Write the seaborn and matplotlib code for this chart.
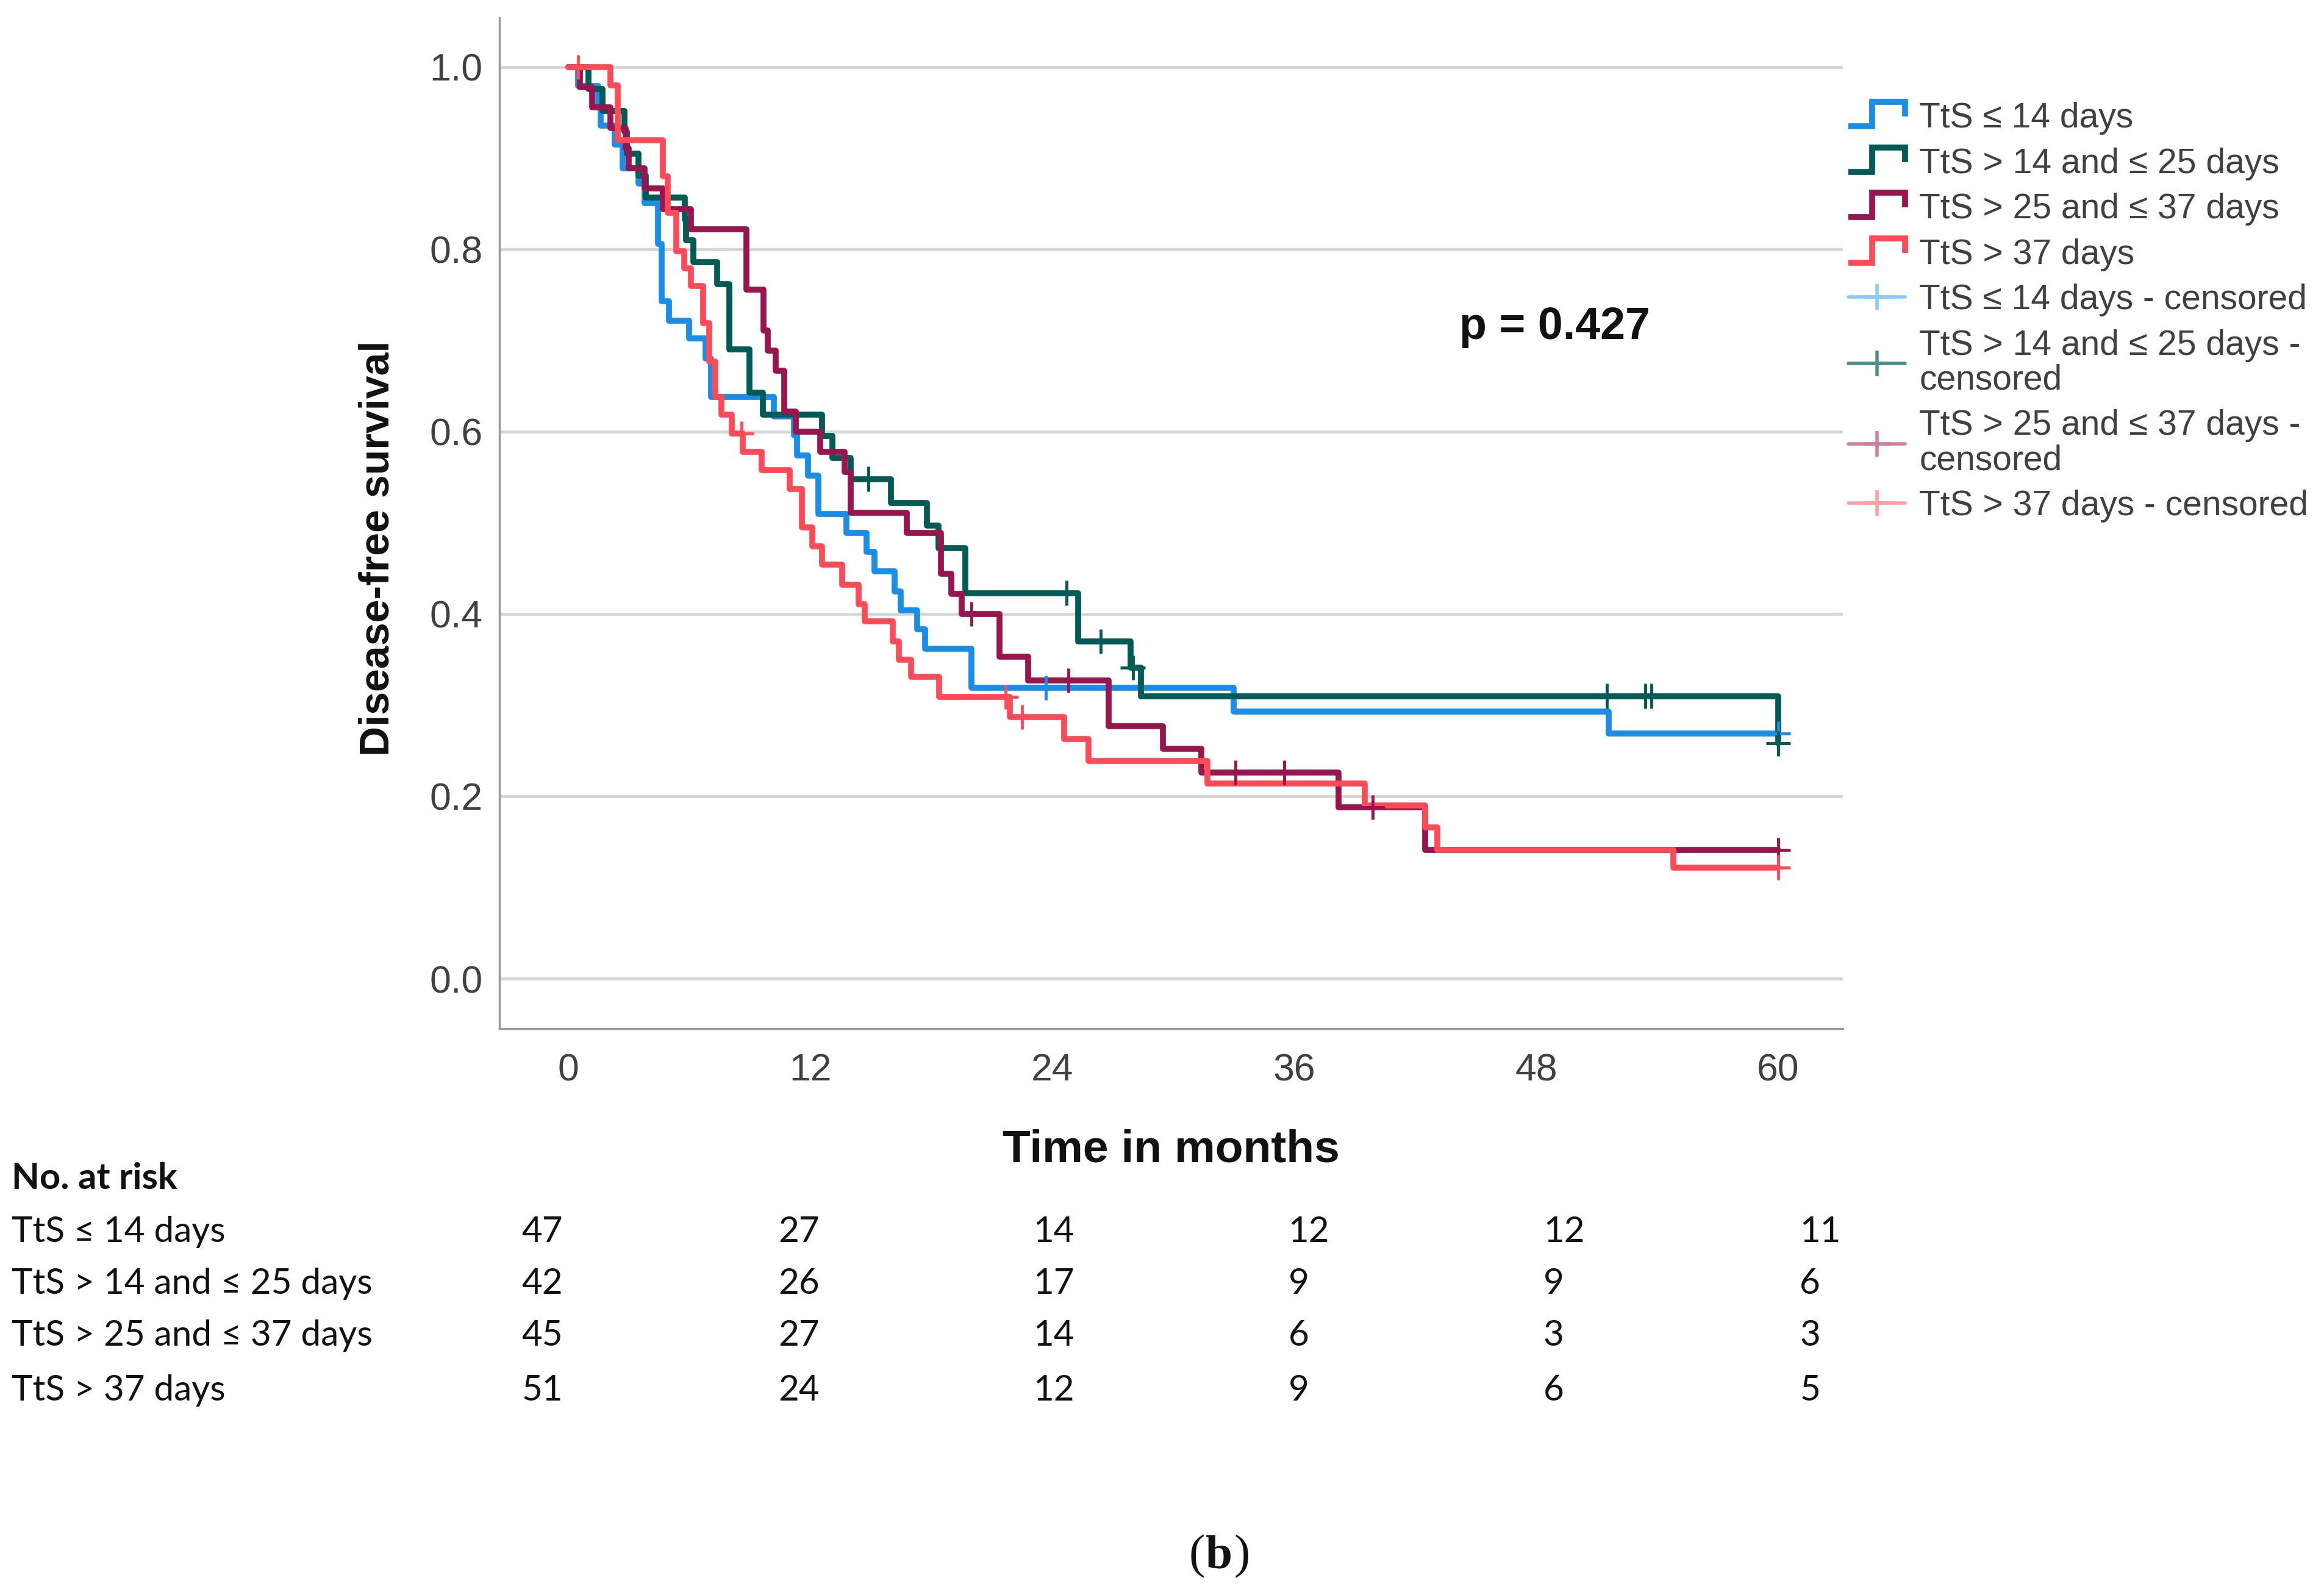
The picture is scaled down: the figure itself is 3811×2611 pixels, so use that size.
import numpy as np
import pandas as pd
import matplotlib
matplotlib.use("Agg")
import matplotlib.pyplot as plt
from matplotlib.lines import Line2D
from matplotlib.legend_handler import HandlerBase
import seaborn as sns

# ---------------- data ----------------
groups = ["TtS ≤ 14 days", "TtS > 14 and ≤ 25 days", "TtS > 25 and ≤ 37 days", "TtS > 37 days"]

g1_time = [0, 0.5, 1.5, 1.6, 2.3, 2.7, 3.5, 3.8, 4.45, 4.65, 5.0, 6.0, 6.8, 7.1, 10.2, 11.2, 11.35,
           11.9, 12.4, 13.8, 14.8, 15.2, 16.2, 16.5, 17.3, 17.7, 20.0, 33.0, 51.6, 60]
g1_surv = [1.0, 0.979, 0.957, 0.936, 0.915, 0.889, 0.872, 0.851, 0.806, 0.743, 0.722, 0.702, 0.680,
           0.638, 0.617, 0.596, 0.574, 0.552, 0.510, 0.489, 0.468, 0.447, 0.425, 0.404, 0.383, 0.362,
           0.319, 0.293, 0.269, 0.269]
g1_cens_time = [23.7, 60]
g1_cens_surv = [0.319, 0.269]

g2_time = [0, 1.0, 1.7, 2.8, 2.9, 3.5, 3.86, 5.8, 5.85, 6.2, 7.4, 8.0, 9.0, 9.65, 12.6, 13.1, 14.0,
           16.0, 17.8, 18.35, 19.7, 25.3, 27.9, 28.4, 60]
g2_surv = [1.0, 0.976, 0.952, 0.929, 0.905, 0.881, 0.857, 0.833, 0.810, 0.786, 0.762, 0.690, 0.643,
           0.619, 0.595, 0.571, 0.548, 0.522, 0.497, 0.472, 0.423, 0.370, 0.341, 0.310, 0.258]
g2_cens_time = [14.9, 24.7, 26.4, 28.0, 51.5, 53.4, 53.7, 60]
g2_cens_surv = [0.548, 0.423, 0.370, 0.341, 0.310, 0.310, 0.310, 0.258]

g3_time = [0, 0.6, 1.2, 2.1, 2.85, 3.0, 3.8, 4.7, 6.1, 8.85, 9.7, 9.9, 10.3, 10.7, 11.3, 12.5, 13.7,
           14.0, 16.8, 18.5, 19.0, 19.5, 21.4, 22.8, 26.8, 29.5, 31.4, 38.2, 42.5, 60]
g3_surv = [1.0, 0.978, 0.956, 0.933, 0.911, 0.889, 0.867, 0.844, 0.822, 0.756, 0.711, 0.689, 0.667,
           0.622, 0.600, 0.578, 0.556, 0.511, 0.489, 0.444, 0.422, 0.400, 0.353, 0.327, 0.277, 0.252,
           0.226, 0.188, 0.141, 0.141]
g3_cens_time = [20.0, 24.8, 33.1, 35.5, 39.9, 60]
g3_cens_surv = [0.400, 0.327, 0.226, 0.226, 0.188, 0.141]

g4_time = [0, 2.1, 2.45, 4.7, 4.94, 5.35, 5.75, 6.1, 6.7, 7.0, 7.3, 7.6, 8.1, 8.65, 9.6, 11.0, 11.6,
           12.1, 12.6, 13.6, 14.4, 14.7, 16.1, 16.4, 17.0, 18.4, 21.9, 24.6, 25.8, 31.7, 39.5, 42.5,
           43.1, 54.8, 60]
g4_surv = [1.0, 0.980, 0.920, 0.880, 0.840, 0.798, 0.779, 0.760, 0.719, 0.677, 0.638, 0.619, 0.598,
           0.578, 0.558, 0.537, 0.495, 0.474, 0.454, 0.432, 0.411, 0.392, 0.370, 0.350, 0.331, 0.309,
           0.287, 0.263, 0.239, 0.214, 0.190, 0.166, 0.141, 0.122, 0.122]
g4_cens_time = [0.5, 8.6, 21.7, 22.5, 60]
g4_cens_surv = [1.0, 0.598, 0.309, 0.287, 0.122]

x_ticks = [0, 12, 24, 36, 48, 60]
y_ticks = [0.0, 0.2, 0.4, 0.6, 0.8, 1.0]

risk_g1 = [47, 27, 14, 12, 12, 11]
risk_g2 = [42, 26, 17, 9, 9, 6]
risk_g3 = [45, 27, 14, 6, 3, 3]
risk_g4 = [51, 24, 12, 9, 6, 5]

p_text = "p = 0.427"

line_colors = ["#1a8de6", "#005a55", "#981550", "#ff4b57"]
cens_colors = ["#8ccbf5", "#4f8f8b", "#cf7fa3", "#ff9fa4"]

# ---------------- frames ----------------
times = [g1_time, g2_time, g3_time, g4_time]
survs = [g1_surv, g2_surv, g3_surv, g4_surv]
ctimes = [g1_cens_time, g2_cens_time, g3_cens_time, g4_cens_time]
csurvs = [g1_cens_surv, g2_cens_surv, g3_cens_surv, g4_cens_surv]

curve_df = pd.concat([pd.DataFrame({"time": t, "surv": s, "group": g})
                      for t, s, g in zip(times, survs, groups)], ignore_index=True)
cens_df = pd.concat([pd.DataFrame({"time": t, "surv": s, "group": g})
                     for t, s, g in zip(ctimes, csurvs, groups)], ignore_index=True)

# ---------------- figure ----------------
sns.set_theme(style="white")
plt.rcParams["font.family"] = ["Liberation Sans", "DejaVu Sans"]

W, H = 3812, 2611
fig = plt.figure(figsize=(W / 100, H / 100), dpi=100)
fig.patch.set_facecolor("white")
ax = fig.add_axes([0.2149, 0.3538, 0.7927 - 0.2149, 0.9888 - 0.3538])

palette = dict(zip(groups, line_colors))
sns.lineplot(data=curve_df, x="time", y="surv", hue="group", hue_order=groups,
             palette=palette, drawstyle="steps-post", estimator=None, linewidth=7,
             legend=False, ax=ax)
sns.scatterplot(data=cens_df, x="time", y="surv", hue="group", hue_order=groups,
                palette=palette, marker="+", s=850, linewidth=3.5, legend=False, ax=ax,
                zorder=5)

ax.set_xlim(-3.4, 63.2)
ax.set_ylim(-0.055, 1.054)
ax.set_xticks(x_ticks)
ax.set_xticklabels([str(v) for v in x_ticks])
ax.set_yticks(y_ticks)
ax.set_yticklabels([f"{v:.1f}" for v in y_ticks])
ax.tick_params(axis="both", length=0, labelsize=45, colors="#404040")
ax.tick_params(axis="x", pad=28)
ax.tick_params(axis="y", pad=20)
ax.yaxis.grid(True, color="#d6d6d6", linewidth=3.5)
ax.xaxis.grid(False)
ax.set_axisbelow(True)
for side in ["top", "right"]:
    ax.spines[side].set_visible(False)
for side in ["left", "bottom"]:
    ax.spines[side].set_color("#9a9a9a")
    ax.spines[side].set_linewidth(2.5)
ax.set_xlabel("")
ax.set_ylabel("")

ax.text(44.2, 0.715, p_text, ha="left", va="center", fontsize=53, fontweight="bold",
        color="#111111")

fig.text(0.1626, 0.6555, "Disease-free survival", rotation=90, ha="center", va="center",
         fontsize=49, fontweight="bold", color="#111111")
fig.text(0.5038, 0.2775, "Time in months", ha="center", va="center",
         fontsize=54, fontweight="bold", color="#111111")


# ---------------- legend ----------------
class StepHandler(HandlerBase):
    def create_artists(self, legend, orig_handle, xdescent, ydescent, width, height,
                       fontsize, trans):
        x0, y0 = -xdescent, -ydescent
        xs = [x0, x0 + 0.42 * width, x0 + 0.42 * width, x0 + width, x0 + width]
        ys = [y0 + 0.05 * height, y0 + 0.05 * height, y0 + 1.05 * height,
              y0 + 1.05 * height, y0 + 0.45 * height]
        ln = Line2D(xs, ys, color=orig_handle.get_color(),
                    linewidth=orig_handle.get_linewidth(), solid_joinstyle="miter",
                    solid_capstyle="butt")
        ln.set_transform(trans)
        return [ln]


step_handles = [Line2D([], [], color=c, linewidth=7) for c in line_colors]
cens_handles = [Line2D([], [], color=c, linewidth=4, marker="+", markersize=30,
                       markeredgewidth=4) for c in cens_colors]
labels = groups + ["TtS ≤ 14 days - censored",
                   "TtS > 14 and ≤ 25 days -\ncensored",
                   "TtS > 25 and ≤ 37 days -\ncensored",
                   "TtS > 37 days - censored"]
handler_map = {h: StepHandler() for h in step_handles}
leg = ax.legend(handles=step_handles + cens_handles, labels=labels, handler_map=handler_map,
                loc="upper left", bbox_to_anchor=(0.795, 0.936), bbox_transform=fig.transFigure,
                frameon=False, fontsize=41, handlelength=1.65, handletextpad=0.4,
                labelspacing=0.36, borderpad=0, borderaxespad=0)
for t in leg.get_texts():
    t.set_color("#404040")
    t.set_linespacing(1.08)

# ---------------- number at risk table ----------------
tfont = ["Lato", "DejaVu Sans"]
fig.text(0.0051, 0.2598, "No. at risk", ha="left", va="center", fontsize=43,
         fontweight="bold", family=tfont, color="#111111")
row_y = [0.2263, 0.1937, 0.1611, 0.1266]
col_x = [0.2245, 0.3348, 0.4445, 0.5542, 0.6639, 0.7742]
for g, yv, risk in zip(groups, row_y, [risk_g1, risk_g2, risk_g3, risk_g4]):
    fig.text(0.0051, yv, g, ha="left", va="center", fontsize=42, family=tfont, color="#111111")
    for xv, n in zip(col_x, risk):
        fig.text(xv, yv, str(n), ha="left", va="center", fontsize=42, family=tfont,
                 color="#111111")

# caption "(b)" with bold b
cx, cy = 0.5245, 0.0223
fig.text(cx - 0.0062, cy, "(", ha="right", va="center", fontsize=57,
         family=["Liberation Serif"], color="#111111")
fig.text(cx, cy, "b", ha="center", va="center", fontsize=57, fontweight="bold",
         family=["Liberation Serif"], color="#111111")
fig.text(cx + 0.0062, cy, ")", ha="left", va="center", fontsize=57,
         family=["Liberation Serif"], color="#111111")

fig.savefig("out.png", dpi=100, facecolor="white")
